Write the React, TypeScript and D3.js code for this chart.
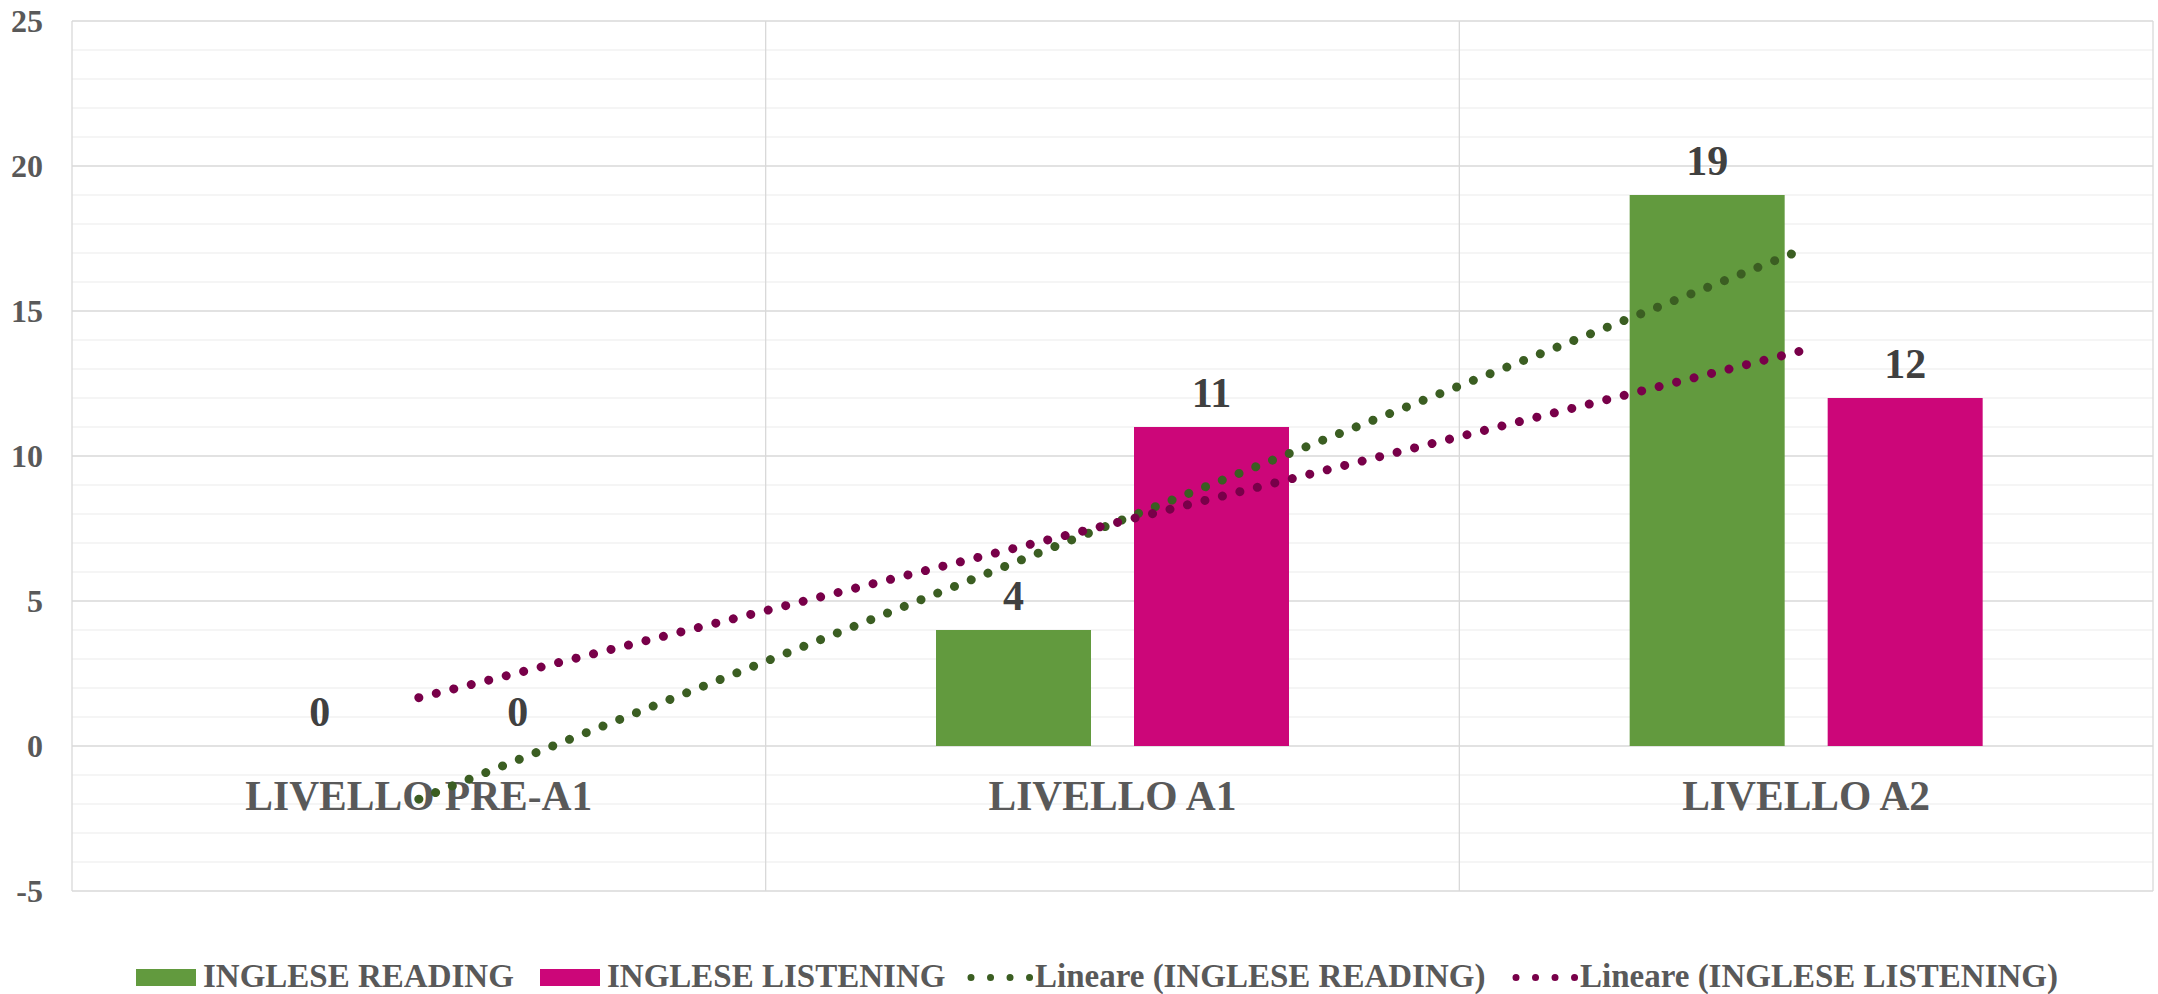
import React from "react";
import * as d3 from "d3";

const categories = ["LIVELLO PRE-A1", "LIVELLO A1", "LIVELLO A2"];
const seriesNames = ["INGLESE READING", "INGLESE LISTENING"];
const readingValues = [0, 4, 19];
const listeningValues = [0, 11, 12];
const yTicks = [-5, 0, 5, 10, 15, 20, 25];
const barColors = ["#629A3E", "#CC0679"];
const trendColors = ["#3B5E22", "#780049"];
const trendLabels = ["Lineare (INGLESE READING)", "Lineare (INGLESE LISTENING)"];

const W = 2158;
const H = 994;
const left = 72;
const right = 2153;
const top = 21;
const bottom = 891;
const FONT = "'Liberation Serif', 'Times New Roman', serif";

function linReg(vals: number[]) {
  const xs = vals.map((_, i) => i + 1);
  const mx = d3.mean(xs)!;
  const my = d3.mean(vals)!;
  let num = 0, den = 0;
  xs.forEach((x, i) => { num += (x - mx) * (vals[i] - my); den += (x - mx) ** 2; });
  const slope = num / den;
  return (x: number) => my + slope * (x - mx);
}

export default function App() {
  const x0 = d3.scaleBand<string>().domain(categories).range([left, right]).padding(0);
  const y = d3.scaleLinear().domain([-5, 25]).range([bottom, top]);
  const groupW = 353;
  const x1 = d3.scaleBand<string>().domain(seriesNames).range([0, groupW]).paddingInner(43 / 198).paddingOuter(0);
  const series = [readingValues, listeningValues];
  const minorTicks = d3.range(-5, 26, 1).filter((v) => v % 5 !== 0);
  const center = (c: string) => x0(c)! + x0.bandwidth() / 2;
  const boundaries = [left, ...categories.slice(1).map((c) => x0(c)!), right];

  return (
    <div style={{ position: "absolute", left: 0, top: 0 }}>
      <svg width={W} height={H} style={{ display: "block", background: "#fff" }}>
        {minorTicks.map((t) => (
          <line key={"m" + t} x1={left} x2={right} y1={y(t)} y2={y(t)} stroke="#F2F2F2" strokeWidth={1.3} />
        ))}
        {yTicks.map((t) => (
          <line key={"M" + t} x1={left} x2={right} y1={y(t)} y2={y(t)} stroke="#D9D9D9" strokeWidth={1.3} />
        ))}
        {boundaries.map((b, i) => (
          <line key={"v" + i} x1={b} x2={b} y1={top} y2={bottom} stroke="#D9D9D9" strokeWidth={1.3} />
        ))}
        {yTicks.map((t) => (
          <text key={"yt" + t} x={43} y={y(t)} dy="0.35em" textAnchor="end" fontFamily={FONT} fontWeight="bold" fontSize={32} fill="#595959">
            {t}
          </text>
        ))}
        {categories.map((c) => (
          <text key={"c" + c} x={center(c)} y={810} textAnchor="middle" fontFamily={FONT} fontWeight="bold" fontSize={41.5} fill="#595959">
            {c}
          </text>
        ))}
        {categories.map((c, ci) =>
          seriesNames.map((s, si) => {
            const v = series[si][ci];
            const bx = center(c) - groupW / 2 + x1(s)!;
            return (
              <g key={c + s}>
                <rect x={bx} y={Math.min(y(v), y(0))} width={x1.bandwidth()} height={Math.abs(y(0) - y(v))} fill={barColors[si]} />
                <text x={bx + x1.bandwidth() / 2} y={y(v) - 20} textAnchor="middle" fontFamily={FONT} fontWeight="bold" fontSize={42} fill="#404040">
                  {v}
                </text>
              </g>
            );
          })
        )}
        {series.map((vals, si) => {
          const f = linReg(vals);
          const xa = center(categories[0]);
          const xb = center(categories[categories.length - 1]);
          return (
            <line key={"tr" + si} x1={xa} y1={y(f(1))} x2={xb} y2={y(f(categories.length))}
              stroke={trendColors[si]} strokeWidth={9} strokeLinecap="round" strokeDasharray="0.01 18" />
          );
        })}
        {/* legend */}
        <g fontFamily={FONT} fontWeight="bold" fontSize={33} fill="#595959">
          <rect x={136} y={969} width={60} height={17} fill={barColors[0]} />
          <text x={203} y={987}>{seriesNames[0]}</text>
          <rect x={540} y={969} width={60} height={17} fill={barColors[1]} />
          <text x={607} y={987}>{seriesNames[1]}</text>
          <line x1={971} x2={1030} y1={977.5} y2={977.5} stroke={trendColors[0]} strokeWidth={7} strokeLinecap="round" strokeDasharray="0.01 19.5" />
          <text x={1035} y={987}>{trendLabels[0]}</text>
          <line x1={1516} x2={1575} y1={977.5} y2={977.5} stroke={trendColors[1]} strokeWidth={7} strokeLinecap="round" strokeDasharray="0.01 19.5" />
          <text x={1580} y={987}>{trendLabels[1]}</text>
        </g>
      </svg>
    </div>
  );
}
